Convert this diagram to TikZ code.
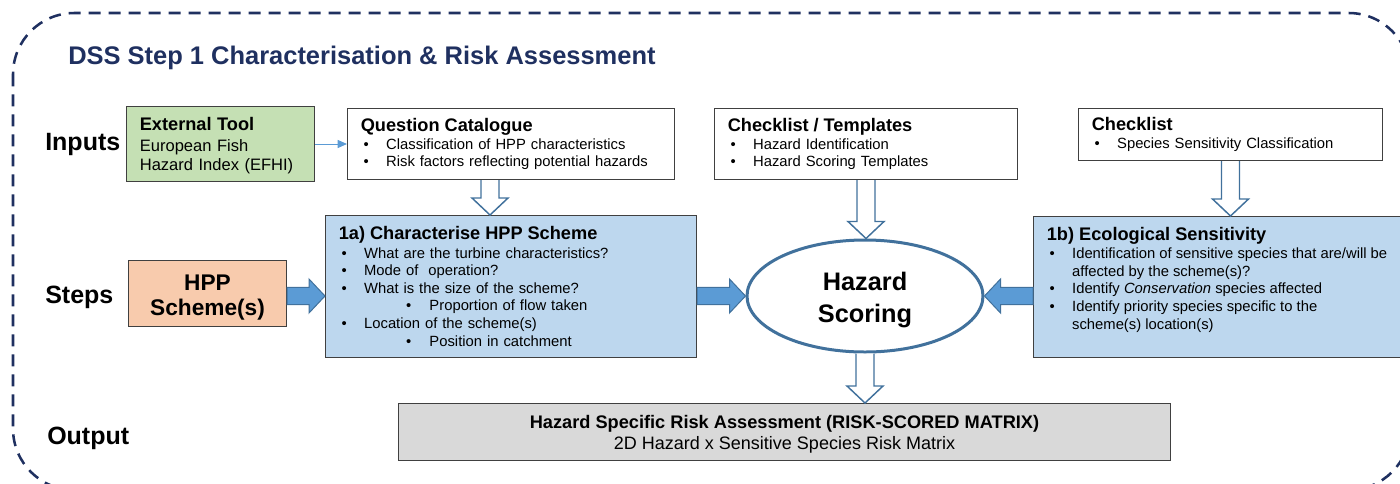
\documentclass[tikz,border=0pt]{standalone}
\usepackage{fontspec}
\setmainfont{Liberation Sans}
\usetikzlibrary{positioning, shapes.geometric, arrows.meta, calc}

\definecolor{navy}{HTML}{1F3060}
\definecolor{extgreen}{HTML}{C5E0B4}
\definecolor{hpppeach}{HTML}{F8CBAD}
\definecolor{stepblue}{HTML}{BDD7EE}
\definecolor{outgrey}{HTML}{D9D9D9}
\definecolor{arrowblue}{HTML}{5B9BD5}
\definecolor{edgeblue}{HTML}{41719C}

\newcommand{\hdr}[1]{{\fontsize{13.65}{16}\selectfont\bfseries #1}}
\newcommand{\bitem}[1]{\makebox[19pt][l]{\hspace{2pt}\textbullet}#1}
\newcommand{\bcont}[1]{\hspace*{19pt}#1}
\newcommand{\bsub}[1]{\hspace*{50.5pt}\makebox[17.5pt][l]{\textbullet}#1}

% block arrows between nodes
\newcommand{\hollowdown}[2]{%
  \draw[hollowarr] let \p1=(#1), \p2=(#2) in
    (\x1-6.75pt,\y1) -- (\x1-6.75pt,\y2+12.75pt) -- (\x1-13.5pt,\y2+12.75pt) -- (\x1,\y2)
    -- (\x1+13.5pt,\y2+12.75pt) -- (\x1+6.75pt,\y2+12.75pt) -- (\x1+6.75pt,\y1);}
\newcommand{\solidarrow}[2]{%
  \filldraw[solidarr] let \p1=(#1), \p2=(#2), \p3=($(\p2)!12pt!(\x1,\y2)$) in
    (\x1,\y2-6.4pt) -- (\x3,\y2-6.4pt) -- (\x3,\y2-12.75pt) -- (\p2)
    -- (\x3,\y2+12.75pt) -- (\x3,\y2+6.4pt) -- (\x1,\y2+6.4pt) -- cycle;}

\begin{document}
\begin{tikzpicture}[x=0.75pt, y=-0.75pt,
    box/.style={draw=black!75, line width=0.75pt, anchor=north west, align=left, inner xsep=10pt, inner ysep=0pt, font=\fontsize{11.1}{13.2}\selectfont},
    inbox/.style={box, fill=white},
    extbox/.style={box, fill=extgreen, font=\fontsize{12.4}{14.25}\selectfont},
    stepbox/.style={box, fill=stepblue},
    hppbox/.style={box, fill=hpppeach, align=center, font=\fontsize{17}{18.75}\selectfont\bfseries},
    outbox/.style={box, fill=outgrey, align=center, font=\fontsize{13.5}{15.75}\selectfont},
    scoring/.style={ellipse, draw=edgeblue, line width=2.25pt, fill=white, minimum width=177pt, minimum height=84pt, inner sep=0pt, align=center, font=\fontsize{19}{23.6}\selectfont\bfseries},
    lbl/.style={anchor=west, inner sep=0pt, font=\fontsize{18.75}{22}\selectfont\bfseries},
    thinarr/.style={-{Triangle[length=7pt, width=6pt]}, draw=arrowblue, line width=0.75pt},
    hollowarr/.style={draw=edgeblue, line width=1.1pt, fill=white, line join=miter},
    solidarr/.style={draw=edgeblue, fill=arrowblue, line width=0.75pt},
    frame/.style={draw=navy, line width=1.9pt, dash pattern=on 9pt off 6pt, rounded corners=46pt}
]

\useasboundingbox (0,0) rectangle (1400,483);
\draw[frame] (13,13) rectangle (1410,490);

\node[lbl, text=navy, font=\fontsize{19.1}{22}\selectfont\bfseries] (title) at (68,58) {DSS Step 1 Characterisation \& Risk Assessment};

% row labels
\node[lbl] (inputs) at (45,144) {Inputs};
\node[lbl] (steps) at (45,297) {Steps};
\node[lbl] (output) at (47,438) {Output};

% inputs
\node[extbox, text width=121pt, minimum height=56.25pt] (ext) at (126,106) {\rule{0pt}{13pt}\hdr{External Tool}\\[1.5pt] European Fish\\ Hazard Index (EFHI)};
\node[inbox, text width=225.25pt, minimum height=53.25pt, right=24pt of ext] (qc) {\hdr{Question Catalogue}\\[0.5pt] \bitem{Classification of HPP characteristics}\\ \bitem{Risk factors reflecting potential hazards}};
\node[inbox, text width=207.25pt, minimum height=53.25pt] (ct) at (714,108) {\hdr{Checklist / Templates}\\[0.5pt] \bitem{Hazard Identification}\\ \bitem{Hazard Scoring Templates}};
\node[inbox, text width=208pt, minimum height=39pt] (cl) at (1078,108) {\hdr{Checklist}\\[0.5pt] \bitem{Species Sensitivity Classification}};

% steps
\node[hppbox, minimum width=118.5pt, minimum height=49.5pt] (hpp) at (128,260) {\rule{0pt}{18pt}HPP\\Scheme(s)};
\node[stepbox, text width=258.25pt, minimum height=106.5pt] (s1a) at (325,215) {\hdr{1a) Characterise HPP Scheme}\\[0.5pt]
  \bitem{What are the turbine characteristics?}\\
  \bitem{Mode of\ \ operation?}\\
  \bitem{What is the size of the scheme?}\\
  \bsub{Proportion of flow taken}\\
  \bitem{Location of the scheme(s)}\\
  \bsub{Position in catchment}};
\node[scoring] (hz) at (865,296) {\rule{0pt}{19.5pt}Hazard\\Scoring};
\node[stepbox, inner ysep=8pt] (s1b) at (1033,216) {\parbox[c][89.75pt][t]{262.75pt}{\raggedright
  \hdr{1b) Ecological Sensitivity}\\[0.5pt]
  \bitem{Identification of sensitive species that are/will be}\\
  \bcont{affected by the scheme(s)?}\\
  \bitem{Identify \textit{Conservation} species affected}\\
  \bitem{Identify priority species specific to the}\\
  \bcont{scheme(s) location(s)}}};

% output
\node[outbox, minimum width=579pt, minimum height=42.75pt] (out) at (398,403) {\rule{0pt}{13pt}\hdr{Hazard Specific Risk Assessment (RISK-SCORED MATRIX)}\\ 2D Hazard x Sensitive Species Risk Matrix};

% connectors
\draw[thinarr] (ext) -- (qc);
\coordinate (qcout) at ($(qc.south)+(-21,0)$);
\hollowdown{qcout}{s1a.north}
\hollowdown{ct.south}{hz.north}
\hollowdown{cl.south}{s1b.north}
\hollowdown{hz.south}{out.north}
\solidarrow{hpp.east |- hz.west}{s1a.west |- hz.west}
\solidarrow{s1a.east |- hz.west}{hz.west}
\solidarrow{s1b.west |- hz.east}{hz.east}

\end{tikzpicture}
\end{document}
